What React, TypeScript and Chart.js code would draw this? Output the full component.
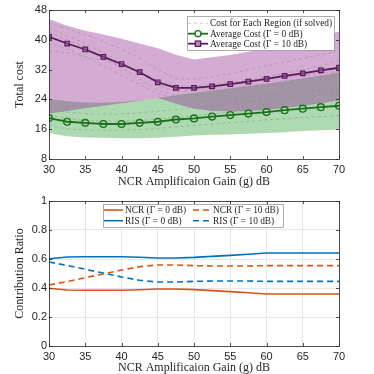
import React, { useEffect, useRef } from "react";
import { Chart, registerables } from "chart.js";
Chart.register(...registerables);

// ---------- data ----------
const gains = [30, 32.5, 35, 37.5, 40, 42.5, 45, 47.5, 50, 52.5, 55, 57.5, 60, 62.5, 65, 67.5, 70];

const avgCost0 = [19.0, 18.0, 17.7, 17.4, 17.4, 17.7, 18.0, 18.6, 18.9, 19.4, 19.8, 20.2, 20.6, 21.1, 21.5, 21.9, 22.3];
const avgCost10 = [40.8, 39.0, 37.4, 35.4, 33.5, 31.3, 28.6, 27.1, 27.1, 27.5, 28.1, 28.8, 29.5, 30.3, 31.0, 31.8, 32.5];

const band10Upper = [45.6, 43.8, 42.4, 41.4, 40.3, 39.0, 37.7, 36.0, 34.7, 35.3, 35.9, 36.8, 37.7, 38.7, 39.7, 40.9, 42.2];
const band10Lower = [20.2, 20.9, 21.6, 22.3, 23.0, 23.7, 24.4, 22.8, 21.5, 20.9, 20.8, 20.9, 21.2, 21.7, 22.3, 23.0, 23.8];
const band0Upper = [24.1, 23.5, 23.2, 23.1, 23.3, 23.8, 24.4, 25.1, 25.8, 26.4, 27.0, 27.6, 28.2, 28.9, 29.6, 30.4, 31.2];
const band0Lower = [15.0, 14.1, 13.8, 13.7, 13.6, 13.6, 13.7, 14.0, 14.3, 14.5, 14.6, 14.8, 15.0, 15.2, 15.5, 15.7, 15.9];

const region10A = [44.5, 43.0, 41.5, 39.5, 37.5, 35.0, 32.0, 29.5, 29.5, 30.0, 31.0, 32.0, 33.0, 34.0, 35.0, 36.0, 37.0];
const region10B = [43.0, 41.0, 39.0, 36.5, 34.0, 31.0, 28.0, 26.0, 26.5, 27.0, 28.0, 29.0, 30.0, 31.0, 32.0, 33.0, 34.5];
const region10C = [37.0, 36.5, 35.5, 34.5, 33.0, 31.5, 29.0, 27.5, 27.5, 28.0, 28.5, 29.0, 29.5, 30.0, 30.5, 31.0, 31.5];
const region10D = [39.0, 37.5, 35.5, 33.0, 30.5, 28.0, 25.5, 24.5, 23.5, 23.5, 24.0, 24.5, 25.0, 25.5, 26.0, 26.5, 27.0];
const region10E = [42.0, 40.0, 38.0, 35.5, 32.5, 29.5, 26.5, 25.0, 25.0, 25.5, 26.5, 27.5, 28.0, 29.0, 29.5, 30.0, 30.5];

const region0A = [19.8, 18.8, 18.4, 18.2, 18.2, 18.4, 18.7, 19.2, 19.6, 20.1, 20.6, 21.1, 21.6, 22.1, 22.6, 23.1, 23.6];
const region0B = [17.0, 16.1, 15.8, 15.7, 15.7, 15.9, 16.2, 16.6, 17.0, 17.4, 17.8, 18.1, 18.5, 18.8, 19.1, 19.4, 19.7];
const region0C = [21.5, 20.6, 20.2, 20.0, 20.1, 20.4, 20.8, 21.3, 21.8, 22.3, 22.8, 23.3, 23.8, 24.3, 24.8, 25.4, 26.0];

const ncr0 = [0.398, 0.386, 0.384, 0.384, 0.384, 0.388, 0.393, 0.393, 0.389, 0.382, 0.375, 0.367, 0.359, 0.359, 0.359, 0.359, 0.359];
const ris0 = [0.602, 0.614, 0.616, 0.616, 0.616, 0.612, 0.607, 0.607, 0.611, 0.618, 0.625, 0.633, 0.641, 0.641, 0.641, 0.641, 0.641];
const ncr10 = [0.421, 0.444, 0.471, 0.497, 0.524, 0.547, 0.559, 0.559, 0.554, 0.552, 0.552, 0.552, 0.554, 0.554, 0.554, 0.554, 0.554];
const ris10 = [0.579, 0.556, 0.529, 0.503, 0.476, 0.453, 0.441, 0.441, 0.446, 0.448, 0.448, 0.448, 0.446, 0.446, 0.446, 0.446, 0.446];

const costTicks = [8, 16, 24, 32, 40, 48];
const ratioTicks = [0, 0.2, 0.4, 0.6, 0.8, 1];
const gainTicks = [30, 35, 40, 45, 50, 55, 60, 65, 70];

const xTitle = "NCR Amplificaion Gain (g) dB";

// ---------- styles ----------
const SERIF = "'Liberation Serif', 'Times New Roman', serif";
const SANS = "'Liberation Sans', Arial, sans-serif";
const AXIS = "#262626";
const GREEN = "#1b701b";
const PURPLE = "#5a1a5a";
const ORANGE = "#D95319";
const BLUE = "#0072BD";

const pts = (ys: number[]) => ys.map((y, i) => ({ x: gains[i], y }));

const framePlugin = {
  id: "frame",
  afterDatasetsDraw(chart: any) {
    const { ctx, chartArea: a, scales } = chart;
    ctx.save();
    ctx.strokeStyle = AXIS;
    ctx.lineWidth = 0.8;
    ctx.beginPath();
    const tl = 3;
    scales.x.ticks.forEach((t: any) => {
      const px = Math.round(scales.x.getPixelForValue(t.value)) + 0.5;
      ctx.moveTo(px, a.bottom);
      ctx.lineTo(px, a.bottom - tl);
      ctx.moveTo(px, a.top);
      ctx.lineTo(px, a.top + tl);
    });
    scales.y.ticks.forEach((t: any) => {
      const py = Math.round(scales.y.getPixelForValue(t.value)) + 0.5;
      ctx.moveTo(a.left, py);
      ctx.lineTo(a.left + tl, py);
      ctx.moveTo(a.right, py);
      ctx.lineTo(a.right - tl, py);
    });
    ctx.stroke();
    ctx.strokeRect(Math.round(a.left) + 0.5, Math.round(a.top) + 0.5, Math.round(a.right - a.left), Math.round(a.bottom - a.top));
    ctx.restore();
  },
};

const legendPlugin = {
  id: "boxLegend",
  afterDraw(chart: any, _args: any, opts: any) {
    if (!opts || !opts.items) return;
    const { ctx } = chart;
    const b = opts.box;
    ctx.save();
    ctx.fillStyle = "#ffffff";
    ctx.fillRect(b.x, b.y, b.w, b.h);
    ctx.strokeStyle = "#9a9a9a";
    ctx.lineWidth = 0.8;
    ctx.strokeRect(b.x + 0.5, b.y + 0.5, b.w, b.h);
    opts.items.forEach((it: any) => {
      ctx.save();
      ctx.strokeStyle = it.color;
      ctx.lineWidth = it.width;
      ctx.setLineDash(it.dash || []);
      ctx.beginPath();
      ctx.moveTo(it.x, it.y);
      ctx.lineTo(it.x + it.len, it.y);
      ctx.stroke();
      ctx.setLineDash([]);
      const cx = it.x + it.len / 2;
      if (it.marker === "circle") {
        ctx.lineWidth = 1.3;
        ctx.fillStyle = "#ffffff";
        ctx.beginPath();
        ctx.arc(cx, it.y, 3, 0, Math.PI * 2);
        ctx.fill();
        ctx.stroke();
      } else if (it.marker === "rect") {
        ctx.lineWidth = 1.2;
        ctx.fillStyle = "#b78ab7";
        ctx.fillRect(cx - 2.7, it.y - 2.7, 5.4, 5.4);
        ctx.strokeRect(cx - 2.7, it.y - 2.7, 5.4, 5.4);
      }
      ctx.fillStyle = AXIS;
      ctx.font = `9.4px ${SERIF}`;
      ctx.textBaseline = "middle";
      ctx.textAlign = "left";
      ctx.fillText(it.label, it.x + it.len + 2, it.y + 0.5);
      ctx.restore();
    });
    ctx.restore();
  },
};

function baseScales(yMin: number, yMax: number, yTicks: number[], yLabel: string, grid: boolean, xAxisH: number, xTitlePad: number) {
  return {
    x: {
      type: "linear",
      min: 30,
      max: 70,
      afterBuildTicks: (s: any) => { s.ticks = gainTicks.map((v) => ({ value: v })); },
      afterFit: (s: any) => { s.height = xAxisH; },
      grid: { display: grid, color: "#e6e6e6", lineWidth: 1, drawTicks: false },
      border: { display: false },
      ticks: { color: AXIS, font: { family: SANS, size: 11 }, padding: 4, maxRotation: 0 },
      title: { display: true, text: xTitle, color: AXIS, font: { family: SERIF, size: 12, lineHeight: 1 }, padding: { top: 0, bottom: xTitlePad } },
    },
    y: {
      type: "linear",
      min: yMin,
      max: yMax,
      afterBuildTicks: (s: any) => { s.ticks = yTicks.map((v) => ({ value: v })); },
      afterFit: (s: any) => { s.width = 49; },
      grid: { display: grid, color: "#e6e6e6", lineWidth: 1, drawTicks: false },
      border: { display: false },
      ticks: { color: AXIS, font: { family: SANS, size: 11 }, padding: 2, callback: (v: any) => String(v) },
      title: { display: true, text: yLabel, color: AXIS, font: { family: SERIF, size: 12, lineHeight: 1 }, padding: { top: 14, bottom: 0 } },
    },
  };
}

function CostChart() {
  const ref = useRef<HTMLCanvasElement>(null);
  useEffect(() => {
    const regionStyle = (ys: number[]) => ({
      data: pts(ys),
      borderColor: "rgba(140,140,140,0.6)",
      borderWidth: 0.8,
      borderDash: [3, 3],
      pointRadius: 0,
      fill: false,
      tension: 0,
    });
    const chart = new Chart(ref.current!, {
      type: "line",
      data: {
        datasets: [
          {
            data: pts(avgCost10),
            borderColor: PURPLE,
            borderWidth: 1.8,
            pointStyle: "rect",
            pointRadius: 3.2,
            pointBorderWidth: 1.2,
            pointBackgroundColor: "rgba(150,80,150,0.55)",
            pointBorderColor: PURPLE,
            fill: false,
          },
          {
            data: pts(avgCost0),
            borderColor: GREEN,
            borderWidth: 1.8,
            pointStyle: "circle",
            pointRadius: 3.4,
            pointBorderWidth: 1.4,
            pointBackgroundColor: "rgba(0,0,0,0)",
            pointBorderColor: GREEN,
            fill: false,
          },
          regionStyle(region10A),
          regionStyle(region10B),
          regionStyle(region10C),
          regionStyle(region10D),
          regionStyle(region10E),
          regionStyle(region0A),
          regionStyle(region0B),
          regionStyle(region0C),
          { data: pts(band10Upper), borderWidth: 0, pointRadius: 0, fill: 11, backgroundColor: "rgba(145,45,145,0.4)", borderColor: "rgba(0,0,0,0)" },
          { data: pts(band10Lower), borderWidth: 0, pointRadius: 0, fill: false, borderColor: "rgba(0,0,0,0)" },
          { data: pts(band0Upper), borderWidth: 0, pointRadius: 0, fill: 13, backgroundColor: "rgba(20,145,30,0.35)", borderColor: "rgba(0,0,0,0)" },
          { data: pts(band0Lower), borderWidth: 0, pointRadius: 0, fill: false, borderColor: "rgba(0,0,0,0)" },
        ],
      },
      options: {
        responsive: false,
        animation: false,
        events: [],
        layout: { padding: { left: 0, right: 35, top: 10, bottom: 0 } },
        scales: baseScales(8, 48, costTicks, "Total cost", false, 31, 2) as any,
        plugins: {
          legend: { display: false },
          tooltip: { enabled: false },
          boxLegend: {
            box: { x: 187, y: 16, w: 147, h: 34 },
            items: [
              { label: "Cost for Each Region (if solved)", color: "rgba(150,150,150,0.6)", width: 0.8, dash: [3, 3], x: 188, y: 23.3, len: 20 },
              { label: "Average Cost (\u0393 = 0 dB)", color: GREEN, width: 1.8, marker: "circle", x: 188, y: 33.7, len: 20 },
              { label: "Average Cost (\u0393 = 10 dB)", color: PURPLE, width: 1.8, marker: "rect", x: 188, y: 43.7, len: 20 },
            ],
          },
        } as any,
      },
      plugins: [framePlugin, legendPlugin],
    });
    return () => chart.destroy();
  }, []);
  return <canvas ref={ref} width={374} height={190} style={{ display: "block" }} />;
}

function RatioChart() {
  const ref = useRef<HTMLCanvasElement>(null);
  useEffect(() => {
    const line = (ys: number[], color: string, dash: number[]) => ({
      data: pts(ys),
      borderColor: color,
      borderWidth: 1.6,
      borderDash: dash,
      pointRadius: 0,
      fill: false,
      tension: 0,
    });
    const chart = new Chart(ref.current!, {
      type: "line",
      data: {
        datasets: [
          line(ncr0, ORANGE, []),
          line(ncr10, ORANGE, [6, 4]),
          line(ris0, BLUE, []),
          line(ris10, BLUE, [6, 4]),
        ],
      },
      options: {
        responsive: false,
        animation: false,
        events: [],
        layout: { padding: { left: 0, right: 35, top: 11, bottom: 0 } },
        scales: baseScales(0, 1, ratioTicks, "Contribution Ratio", true, 28, 0) as any,
        plugins: {
          legend: { display: false },
          tooltip: { enabled: false },
          boxLegend: {
            box: { x: 103, y: 14, w: 180, h: 23 },
            items: [
              { label: "NCR (\u0393 = 0 dB)", color: ORANGE, width: 1.6, x: 104, y: 20, len: 19 },
              { label: "NCR (\u0393 = 10 dB)", color: ORANGE, width: 1.6, dash: [6, 4], x: 193, y: 20, len: 18 },
              { label: "RIS (\u0393 = 0 dB)", color: BLUE, width: 1.6, x: 104, y: 30.7, len: 19 },
              { label: "RIS (\u0393 = 10 dB)", color: BLUE, width: 1.6, dash: [6, 4], x: 193, y: 30.7, len: 18 },
            ],
          },
        } as any,
      },
      plugins: [framePlugin, legendPlugin],
    });
    return () => chart.destroy();
  }, []);
  return <canvas ref={ref} width={374} height={184} style={{ display: "block" }} />;
}

export default function App() {
  return (
    <div style={{ position: "fixed", left: 0, top: 0, width: 374, height: 374, background: "#ffffff" }}>
      <CostChart />
      <RatioChart />
    </div>
  );
}
